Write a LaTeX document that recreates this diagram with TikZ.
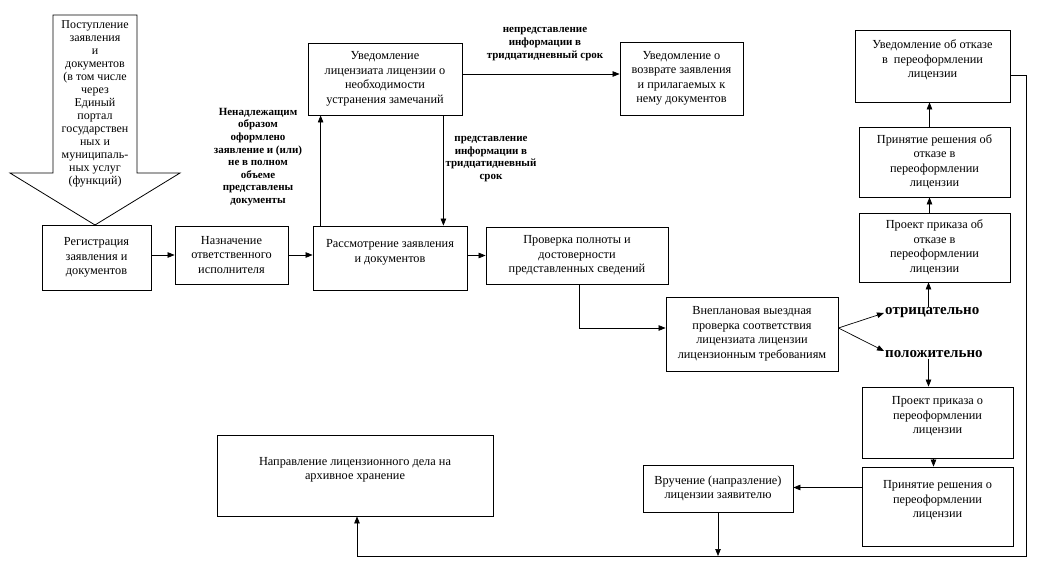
\documentclass[tikz,border=0pt]{standalone}
\usepackage{fontspec}
\setmainfont{Liberation Serif}
\usetikzlibrary{arrows.meta, positioning}

\begin{document}
\begin{tikzpicture}[
  x=1pt, y=-1pt,
  font=\fontsize{12.3}{14.5}\selectfont,
  box/.style={draw, line width=0.8pt, align=center, inner sep=2pt},
  dims/.style 2 args={minimum width=#1pt, minimum height=#2pt},
  note/.style={font=\fontsize{11}{12.6}\selectfont\bfseries, align=center},
  verdict/.style={font=\fontsize{15}{17}\selectfont\bfseries, inner sep=1pt, anchor=west},
  arrow/.style={-{Triangle[length=7pt, width=5.5pt]}, line width=0.7pt},
  line/.style={line width=0.8pt},
]
\useasboundingbox (0,0) rectangle (1050,570);

% Incoming documents (block arrow)
\draw[line] (53,15) -- (137,15) -- (137,173) -- (180,173) -- (95,225) -- (10,173) -- (53,173) -- cycle;
\node[font=\fontsize{12}{13}\selectfont, align=center] (inflow) at (95,104)
  {Поступление\\заявления\\и\\документов\\(в том числе\\через\\Единый\\портал\\государствен\\ных и\\муниципаль-\\ных услуг\\(функций)};

% Main row
\node[box, dims={109}{65}] (reg) at (96.5,257.5) {Регистрация\\заявления и\\документов};
\node[box, dims={113}{58}] (naz) at (231.5,255) {Назначение\\ответственного\\исполнителя};
\node[box, dims={154}{64}] (ras) at (390,258) {Рассмотрение заявления\\и документов\\~};
\node[box, dims={182}{57}] (prov) at (577,255.5) {Проверка полноты и\\достоверности\\представленных сведений};

% Remarks loop
\node[box, dims={154}{72}] (uvl) at (385,79) {Уведомление\\лицензиата лицензии о\\необходимости\\устранения замечаний};
\node[box, dims={123}{73}] (vozv) at (681.5,78.5) {Уведомление о\\возврате заявления\\и прилагаемых к\\нему документов};

\node[note] (bad) at (258,157) {Ненадлежащим\\образом\\оформлено\\заявление и (или)\\не в полном\\объеме\\представлены\\документы};
\node[note] (given) at (491,159) {представление\\информации в\\тридцатидневный\\срок};
\node[note] (notgiven) at (545,44) {непредставление\\информации в\\тридцатидневный срок};

% Field inspection
\node[box, dims={172}{74}] (vnep) at (752,334) {Внеплановая выездная\\проверка соответствия\\лицензиата лицензии\\лицензионным требованиям};
\node[verdict] (neg) at (884,313) {отрицательно};
\node[verdict] (pos) at (884,354) {положительно};

% Refusal branch
\node[box, dims={151}{69}] (otkpr) at (934.5,247.5) {Проект приказа об\\отказе в\\переоформлении\\лицензии};
\node[box, dims={151}{70}] (otkrsh) at (934.5,162) {Принятие решения об\\отказе в\\переоформлении\\лицензии};
\node[box, dims={155}{72}] (otkuv) at (932.5,66) {Уведомление об отказе\\в~~переоформлении\\лицензии\\~};

% Approval branch
\node[box, dims={151}{71}] (pozpr) at (937.5,422.5) {Проект приказа о\\переоформлении\\лицензии\\~};
\node[box, dims={151}{79}] (pozrsh) at (937.5,506.5) {Принятие решения о\\переоформлении\\лицензии\\~};
\node[box, dims={150}{47}] (vruch) at (718,488.5) {Вручение (напразление)\\лицензии заявителю};
\node[box, dims={276}{81}] (arch) at (355,475.5) {Направление лицензионного дела на\\архивное хранение\\~};

% Bottom bus
\coordinate (busr) at (1026,556);

% Arrows along the main row
\draw[arrow] (reg.east |- naz.west) -- (naz.west);
\draw[arrow] (naz.east) -- (naz.east -| ras.west);
\draw[arrow] (ras.east |- prov.west) -- (prov.west);

% Arrows of the remarks loop
\draw[arrow] ([xshift=8pt]ras.north west) -- ([xshift=8pt]ras.north west |- uvl.south);
\draw[arrow] ([xshift=-19pt]uvl.south east) -- ([xshift=-19pt]uvl.south east |- ras.north);
\draw[arrow] ([yshift=5pt]uvl.east) -- ([yshift=5pt]uvl.east -| vozv.west);

% To the inspection and its outcomes
\draw[arrow] ([xshift=94pt]prov.south west) |- ([yshift=6pt]vnep.west);
\draw[arrow] ([yshift=6pt]vnep.east) -- (neg.west);
\draw[arrow] ([yshift=6pt]vnep.east) -- ([yshift=3pt]pos.west);

% Refusal chain
\draw[arrow] ([xshift=-6pt]otkpr.south |- neg.north) -- ([xshift=-6pt]otkpr.south);
\draw[arrow] ([xshift=-5pt]otkpr.north) -- ([xshift=-5pt]otkpr.north |- otkrsh.south);
\draw[arrow] ([xshift=-5pt]otkrsh.north) -- ([xshift=-5pt]otkrsh.north |- otkuv.south);

% Approval chain
\draw[arrow] ([xshift=-9pt]pozpr.north |- pos.south) -- ([xshift=-9pt]pozpr.north);
\draw[arrow] ([xshift=-4pt]pozpr.south) -- ([xshift=-4pt]pozpr.south |- pozrsh.north);
\draw[arrow] ([yshift=19pt]pozrsh.west) -- ([yshift=19pt]pozrsh.west -| vruch.east);
\draw[arrow] (vruch.south) -- (vruch.south |- busr);

% Return to the archive
\draw[arrow] ([yshift=-9pt]otkuv.east) -| (busr) -| ([xshift=2pt]arch.south);

\end{tikzpicture}
\end{document}
